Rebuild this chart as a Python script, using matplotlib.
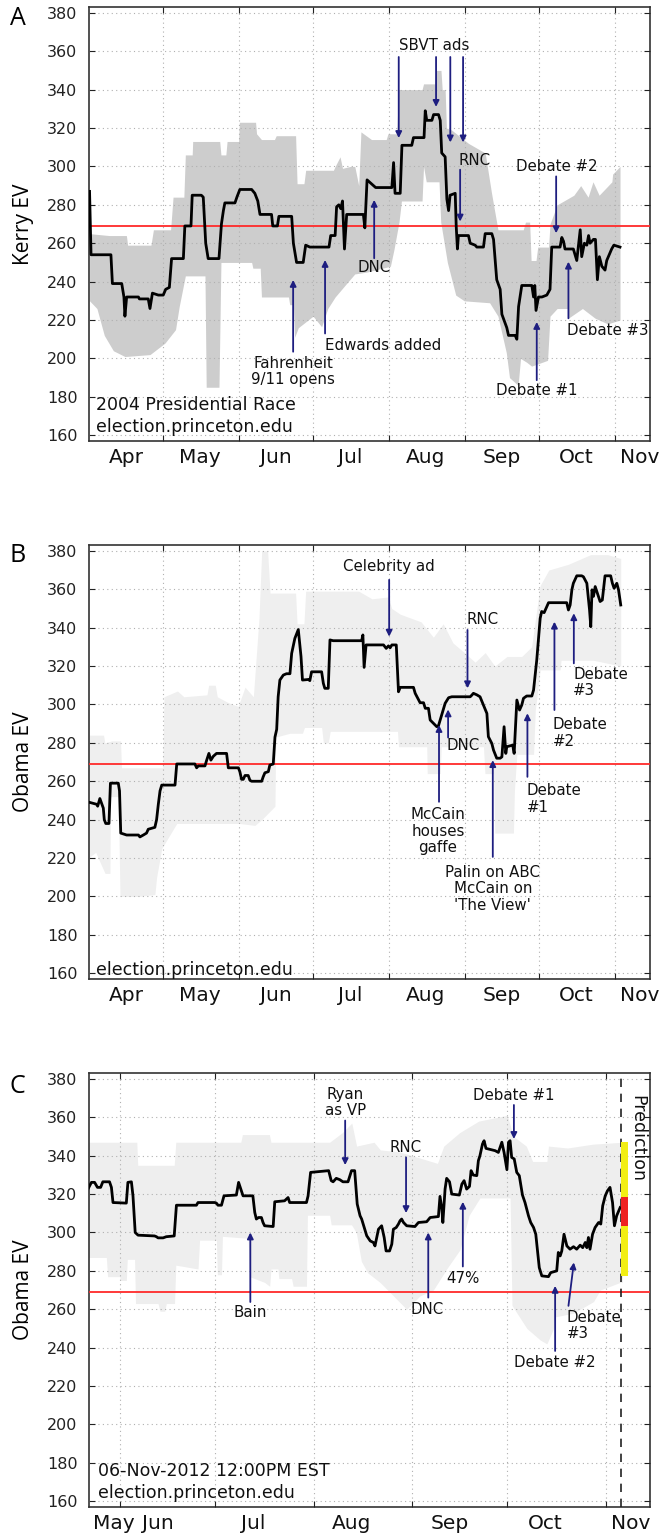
import numpy as np
import matplotlib
matplotlib.use("Agg")
import matplotlib.pyplot as plt
import matplotlib.dates as mdates
from matplotlib.ticker import FixedLocator, FixedFormatter, NullFormatter

# ---------------------------------------------------------------- 2004 (days after 1 Apr 2004)
kerry_day = [0, 0.6, 8.7, 9.3, 13.1, 14.0, 14.4, 15.1, 19.9, 20.3, 23.9, 24.6, 25.6, 28, 30, 31, 32.5,
             33.4, 38.2, 38.8, 41.3, 41.8, 45.5, 46.3, 47.3, 48.3, 52.7, 53.7, 54.5, 55.1, 59.2, 60,
             61.2, 66, 67.3, 68.5, 69.4, 74.1, 74.6, 76.5, 77.1, 82.3, 83, 84.3, 87, 88, 89.7, 97.5,
             98.2, 100, 100.6, 101.5, 102.3, 103, 103.8, 104.7, 111.5, 112.1, 113, 115.6, 116.5, 123.1,
             123.8, 124.4, 126.5, 127.2, 131.2, 131.9, 136.2, 136.7, 137.3, 139.4, 140.1, 142.1, 142.8,
             143.4, 144.8, 145.5, 146.2, 146.8, 148.9, 149.3, 149.8, 150.2, 154.3, 155, 157, 157.7,
             160.4, 161.1, 163.8, 164.5, 165.2, 165.8, 167.2, 167.9, 169.9, 170.6, 173.3, 174, 174.7,
             175.3, 176, 180.1, 180.8, 181.3, 181.8, 182.8, 184.2, 186.2, 187.5, 188.2, 191.6, 192.3,
             193, 193.6, 197, 198.4, 199.1, 199.8, 200.4, 201.5, 202.5, 203.2, 203.8, 205.2, 206,
             206.8, 207.6, 208.6, 209.9, 210.6, 212.6, 213.5, 216]
kerry_ev = [287, 254, 254, 239, 239, 232, 222, 232, 232, 231, 231, 226, 234, 233, 233, 236, 237,
            252, 252, 269, 269, 285, 285, 284, 260, 252, 252, 270, 277, 281, 281, 284,
            288, 288, 286, 282, 275, 275, 269, 269, 274, 274, 260, 250, 250, 259, 258, 258,
            264, 264, 279, 280, 278, 282, 257, 275, 275, 268, 293, 290, 289, 289,
            302, 286, 286, 311, 311, 315, 315, 329, 324, 324, 327, 327, 324,
            307, 305, 283, 277, 285, 286, 269, 257, 264, 264, 260, 259, 258,
            258, 265, 265, 262, 251, 241, 236, 223, 216, 212, 212, 210, 227,
            232, 238, 238, 232, 238, 225, 232, 232, 233, 236, 258, 258, 263,
            261, 257, 257, 251, 259, 267, 253, 260, 259, 264, 260, 262, 262,
            241, 253, 248, 246, 251, 257, 259, 258]

kerry_hi_day = [0, 8, 15, 15.5, 25, 26, 33, 34, 38.4, 39, 41.8, 42, 53, 53.5, 55.5, 56, 60.7, 61, 67.6,
                68, 70, 75.3, 76, 83.9, 84.5, 87.3, 88, 99.3, 100, 102, 103, 106.2, 108, 109.6, 110.5,
                114.8, 120.8, 121.5, 125.1, 125.8, 135.4, 136, 140.5, 141, 143.1, 143.6, 144.8, 145.3,
                147.4, 154.3, 161.1, 163.7, 166.3, 176.6, 177.5, 179.2, 179.8, 181.8, 182.5, 186.9,
                187.5, 190.4, 197.2, 200, 203, 205, 207.5, 212.7, 213, 216]
kerry_hi = [265, 264, 264, 259, 259, 267, 267, 284, 284, 306, 306, 313, 313, 306, 306, 313, 313, 323, 323,
            317, 314, 314, 316, 316, 291, 291, 298, 298, 300, 305, 299, 300, 300, 290, 318,
            314, 314, 317, 317, 340, 340, 343, 343, 350, 350, 340, 340, 320,
            319, 312, 307, 286, 267, 267, 271, 271, 251, 251, 258, 258,
            270, 280, 285, 290, 284, 292, 285, 292, 296, 300]
kerry_lo_day = [0, 3, 6, 9.7, 14.4, 24.6, 30.7, 35, 36.5, 39, 47, 47.5, 52.7, 53.5, 66, 66.5, 69.5, 70,
                81, 81.5, 83, 83.5, 85, 88, 91, 94.5, 97, 100, 105.3, 108, 113, 122.5, 124, 126, 127,
                135.4, 136, 137.1, 142.3, 143, 145.7, 149.1, 152.6, 162.9, 166.3, 169.7, 171, 174.5,
                175.5, 178, 180, 186.5, 187.5, 190.4, 194.6, 195, 200.7, 205.8, 211, 216]
kerry_lo = [230, 226, 212, 204, 201, 202, 208, 215, 227, 243, 243, 185, 185, 250, 250, 247, 247, 232,
            232, 228, 228, 211, 216, 219, 222, 216.5, 226, 232, 240, 244, 245, 248, 257, 271, 282,
            282, 300, 292, 292, 271, 250, 233, 230, 229, 222, 203, 190, 186,
            200, 198, 196, 199, 222, 226, 226, 221, 226, 221, 218, 220]

# ---------------------------------------------------------------- 2008 (days after 1 Apr 2008)
obama08_day = [0, 2.9, 3.3, 4.2, 5.6, 6, 6.6, 7.9, 8.5, 11.7, 12.2, 12.7, 15.1, 19.9, 20.5, 21.9, 23.2,
               23.9, 26.6, 27.3, 28, 28.7, 29.4, 34.8, 35.5, 42.9, 43.6, 44.3, 47, 47.7, 48.6, 49.4,
               50.4, 51.7, 55.8, 56.5, 60.6, 61.2, 61.9, 62.6, 63.3, 64.6, 65.3, 66, 70.1, 70.7, 71.4,
               72.8, 73.4, 74.8, 75.5, 76.2, 76.8, 77.5, 78.9, 80.2, 81.6, 82.3, 83.6, 85, 86.1, 86.7,
               89.1, 89.7, 90.4, 94.5, 95.2, 95.8, 97.2, 97.9, 99.2, 110.8, 111.3, 111.8, 112.6,
               119.7, 120.8, 121.7, 122.4, 123.1, 124.9, 125.4, 125.8, 126.5, 131.9, 132.6, 134,
               134.6, 136, 136.7, 138, 138.7, 140.1, 141.4, 142.1, 143.4, 144.8, 146.2, 147.5, 155,
               155.7, 156.3, 157.7, 159, 160.4, 161.8, 162.4, 163.8, 164.5, 165.8, 167.2, 167.9,
               168.8, 169.5, 169.9, 172.3, 172.9, 173.3, 174, 175.1, 176, 176.7, 178, 180.1, 180.8,
               182.1, 183.5, 184.1, 185.1, 186.2, 186.9, 194.3, 195, 195.7, 196.4, 197, 198.4, 200.4,
               201.1, 202.5, 203.6, 204.1, 204.6, 205.2, 205.9, 206.8, 207.9, 208.8, 209.9, 212.2,
               212.9, 213.6, 214.7, 215.4, 216.3]
obama08_ev = [249, 248, 247, 251, 246, 240, 238, 238, 259, 259, 255, 233, 232, 232, 231, 232, 233,
              235, 236, 240, 248, 255, 258, 258, 269, 269, 267, 268, 268, 271, 274.5, 271,
              273, 274.5, 274.5, 267, 267, 265, 261, 261, 263, 263, 260.5, 260, 260, 262.3, 264.4,
              265, 268.4, 269, 283, 287, 304, 312.7, 315.3, 316, 316, 326.6, 334.4, 339, 325, 312.7,
              313, 312.4, 317, 317, 311, 308.4, 308.4, 333.6, 333.2, 333.2, 336.2, 319.3, 331,
              331, 329.2, 330.5, 329.5, 331, 331, 318, 306.6, 308.9, 308.9, 305.8, 302.3,
              300.9, 300.9, 298, 298, 291.9, 290.1, 288.4, 289, 294.5, 300.6, 303.5, 304, 304,
              304.9, 305.8, 305, 304, 299.7, 295.3, 283.2, 279.7, 276.2, 272, 272, 272.7,
              288.4, 274.5, 278, 278.8, 274.5, 284.9, 302.3, 297.1, 299.7, 303.2, 304.4, 304.4, 307.5,
              323.1, 344.9, 348.4, 347.8, 351, 353, 353, 349.2, 351.8, 359.7, 363.1, 367, 367,
              366.5, 363.1, 349.2, 340.5, 359.7, 356.3, 361.4, 357.9, 353.6, 354.4, 367, 367,
              363.1, 360.5, 363.1, 359.7, 351.8]

obama08_hi_day = [0, 5.7, 6.2, 9, 12.6, 13, 29.8, 30.3, 35.8, 38.4, 47.8, 48.5, 51.2, 52, 56.4, 60.5,
                  63.3, 66.7, 69, 70.1, 72.5, 73.5, 83.9, 84.5, 87.3, 88, 109.6, 115, 121.7, 123,
                  126.5, 135, 140, 144, 148, 152.6, 157, 161.1, 165, 170, 176, 180, 183.5, 187, 195,
                  204, 211, 216.3]
obama08_hi = [284, 284, 280, 281, 281, 267, 267, 304, 307, 304, 305, 310, 310, 304, 301, 299,
              309, 304, 345, 380, 380, 358, 358, 342, 342, 359, 359, 355, 356, 350,
              347, 343, 335, 342, 332, 327, 322, 327, 320, 325, 325, 330, 362, 370, 373,
              378, 378, 376]
obama08_lo_day = [0, 2.5, 6.3, 8.3, 8.5, 11.7, 12.4, 19.5, 26.6, 27.3, 29.4, 35.5, 61.2, 67.3, 70.1,
                  75.5, 75.8, 81.6, 86.7, 87.5, 94.5, 95.2, 97.2, 98, 110, 125.4, 125.8, 137.3, 137.5,
                  142.8, 143.2, 155, 160.4, 161, 164.5, 165, 172.6, 173, 174, 180.8, 181.5, 183.5,
                  191.6, 192, 205.2, 216.3]
obama08_lo = [220.5, 223, 212, 212, 252, 252, 200, 200, 201, 210, 225, 238, 238, 237, 240,
              247, 283, 285, 285, 288, 288, 280, 280, 286, 286, 286, 278, 278, 264,
              264, 278, 278, 278, 264, 264, 233, 233, 255, 274, 274, 297, 318,
              318, 323, 323, 320]

# ---------------------------------------------------------------- 2012 (days after 1 Jun 2012)
obama12_day = [-10.2, -9.1, -8.1, -7.2, -6.2, -5.5, -3.4, -2.8, -2.3, 1.9, 2.4, 3.5, 4, 4.7, 5.6, 10.8,
               11.4, 11.9, 13.5, 14.5, 17, 17.7, 24, 24.5, 29.8, 30.3, 30.8, 31.9, 32.7, 36.6, 37.3,
               38, 38.7, 41.8, 42.4, 42.9, 43.6, 44.5, 45, 45.5, 48.2, 48.7, 51.8, 52.9, 53.4, 58.7,
               59.2, 60, 65.7, 66.5, 67.1, 68.1, 69.2, 70.2, 71.8, 72.3, 72.9, 73.9, 74.7, 75.6, 76.1,
               77.7, 78.8, 79.8, 80.3, 81.4, 82.4, 83.2, 83.8, 84.9, 85.6, 86.1, 87, 87.7, 88.2, 88.7,
               89.3, 90.3, 92.9, 94, 96.6, 97.7, 100.3, 100.8, 101.4, 101.7, 102.4, 102.9, 103.8,
               104.5, 106.9, 107.7, 108.4, 109.2, 110.1, 110.6, 111.3, 112.4, 112.9, 113.4, 114.2,
               114.7, 115.3, 118.2, 119.2, 120.3, 121, 121.9, 122.4, 122.9, 123.4, 124.2, 125,
               125.8, 126.8, 127.6, 128.7, 129.4, 130.3, 131, 131.5, 132.1, 132.9, 135, 135.7,
               137.6, 138.1, 138.7, 139.2, 139.9, 140.8, 141.8, 142.9, 143.9, 145, 145.8, 146.6,
               147.1, 147.6, 148.1, 148.9, 149.7, 150.8, 151.5, 152.1, 152.9, 153.6, 154.4, 155.2,
               155.8, 156.5, 157.6]
obama12_ev = [322.6, 326.1, 326.1, 323.5, 323.5, 326.4, 326.4, 323.5, 315.6, 315.3, 326.1, 326.4, 319.1,
              300, 298.6, 298.2, 297.8, 297.2, 297.2, 297.8, 298.2, 314.2, 314.2, 315.6, 315.6, 315.3,
              314.2, 314.2, 319.1, 319.5, 326.1, 322.6, 319.1, 319.1, 310.4, 307, 307.8, 307.8, 305.2,
              303.5, 303.1, 316, 316.5, 318.2, 315.6, 315.6, 319, 331.3, 332.2, 327, 326.4, 328.2,
              327.5, 326.4, 326.4, 329, 332.2, 332.2, 314.8, 308.7, 307, 298.3, 295.6, 294.8, 293,
              301.7, 303.5, 297.4, 290.4, 290.4, 293.9, 301.7, 302.6, 304.4, 306.1, 307, 305.2,
              303.5, 303.1, 305.2, 305.6, 307.8, 308.3, 318.8, 312.2, 305.2, 322.6, 328.2, 326.4,
              320, 319.5, 325.2, 327, 322.6, 324, 332.2, 329.9, 329.6, 337.4, 340, 346.1, 347.8,
              343.8, 342.6, 341.7, 347, 341.7, 332.7, 347, 347.8, 339.1, 338.3, 331.3, 329.6,
              319.5, 315.6, 308.7, 305.2, 302.6, 299.1, 291.3, 281.7, 277.4, 277, 279.1, 280,
              289.6, 287.8, 290.4, 299.1, 293, 291.3, 292.6, 291.3, 293.4, 292.1, 294.8, 292.1,
              297.4, 291.3, 299.1, 302.6, 305.2, 304.4, 313.9, 319.1, 321.7, 323.5, 315.6, 303.5,
              308.7, 313]

obama12_hi_day = [-10, 5.2, 5.5, 17, 17.5, 38, 38.5, 47, 47.5, 66, 70, 73, 74.5, 80, 82, 88, 96, 100,
                  102, 107, 113, 122, 124, 128, 130, 134.5, 135, 141, 149, 158.3]
obama12_hi = [347, 347, 335, 335, 347, 347, 351, 351, 347, 347, 352, 357, 345, 347, 343, 342, 338, 336,
              345, 352, 358, 361, 350, 345, 337, 337, 345, 344, 346, 347]
obama12_lo_day = [-10.2, -4.4, -4, -0.2, 0, 1.9, 2.2, 4.5, 4.8, 11.9, 12.5, 14, 14.5, 17.1, 17.5, 24.5,
                  25, 30.3, 30.6, 31.9, 32.2, 40.3, 40.8, 45.5, 47.1, 47.5, 49.7, 50, 54, 54.5, 58.7,
                  59, 66, 66.5, 72.9, 74.4, 76, 78, 81.9, 86.1, 90.3, 94.5, 98.7, 102.9, 107.1, 110,
                  113.4, 122.9, 123.5, 128.2, 132.4, 134.5, 136.6, 137, 142.9, 149.2, 151.3, 157.6,
                  158.3]
obama12_lo = [287, 287, 277, 277, 275, 275, 286, 286, 263, 263, 259, 259, 263, 263, 283, 281,
              296, 296, 278, 278, 298, 297, 277, 274, 272, 281, 281, 276, 276, 272, 272,
              309, 309, 304, 304, 300, 285, 279, 274, 267, 260, 267, 270, 281, 291, 309,
              318, 318, 262, 250, 244, 242, 250, 256, 258, 264, 270, 274, 274]

# Prediction bar for election day 2012 (EV range and central range)
pred_range = [277.4, 347]
pred_core = [303.5, 318.3]

# ---------------------------------------------------------------- month tick labels
month_names_a = ["Apr", "May", "Jun", "Jul", "Aug", "Sep", "Oct", "Nov"]
month_label_days_04 = ["2004-04-16", "2004-05-16", "2004-06-16", "2004-07-16", "2004-08-16",
                       "2004-09-16", "2004-10-16", "2004-11-11"]
month_label_days_08 = ["2008-04-16", "2008-05-16", "2008-06-16", "2008-07-16", "2008-08-16",
                       "2008-09-16", "2008-10-16", "2008-11-11"]
month_names_c = ["May", "Jun", "Jul", "Aug", "Sep", "Oct", "Nov"]
month_label_days_12 = ["2012-05-30", "2012-06-13", "2012-07-13", "2012-08-13", "2012-09-13",
                       "2012-10-13", "2012-11-09"]
y_ticks = list(range(160, 381, 20))

NAVY = "#1e1e80"
RED = "#ff2a2a"


def dnum(s):
    return mdates.date2num(np.datetime64(s))


def to_x(start, days):
    return dnum(start) + np.asarray(days, dtype=float)


def band(ax, start, hi_day, hi, lo_day, lo, color):
    # put both edges on one common set of days so the band is a single polygon
    days = np.union1d(hi_day, lo_day)
    upper = np.interp(days, hi_day, hi)
    lower = np.interp(days, lo_day, lo)
    ax.fill_between(to_x(start, days), lower, np.maximum(upper, lower), color=color, lw=0,
                    zorder=1)


def style_axes(ax, start, x0, x1, month_starts, label_days, names):
    ax.set_xlim(dnum(start) + x0, dnum(start) + x1)
    ax.set_ylim(157, 383)
    ax.set_yticks(y_ticks)
    ax.xaxis.set_major_locator(FixedLocator([dnum(m) for m in month_starts]))
    ax.xaxis.set_major_formatter(NullFormatter())
    ax.xaxis.set_minor_locator(FixedLocator([dnum(m) for m in label_days]))
    ax.xaxis.set_minor_formatter(FixedFormatter(names))
    ax.tick_params(axis="both", which="major", direction="in", length=4, width=0.8,
                   top=True, right=True, labelsize=11.5, colors="#222222")
    ax.tick_params(axis="y", which="major", pad=8)
    ax.tick_params(axis="x", which="minor", length=0, labelsize=14.5, pad=5,
                   labelcolor="#111111")
    ax.grid(True, which="major", ls=(0, (1, 3)), color="#b0b0b0", lw=0.8)
    for s in ax.spines.values():
        s.set_color("#333333")
        s.set_linewidth(1.2)
    ax.set_axisbelow(False)


def arrow(ax, x, y0, y1, x1=None):
    ax.annotate("", xy=(x if x1 is None else x1, y1), xytext=(x, y0),
                arrowprops=dict(arrowstyle="-|>", color=NAVY, lw=1.3, mutation_scale=9,
                                shrinkA=0, shrinkB=0), zorder=6)


def note(ax, x, y, s, ha="center"):
    ax.text(x, y, s, ha=ha, va="center", fontsize=10.8, color="#111111",
            linespacing=1.12, zorder=7, multialignment=ha if ha != "center" else "center")


fig = plt.figure(figsize=(6.61, 15.35), dpi=100)
L, W, H = 0.134, 0.8493, 0.2827
ax_a = fig.add_axes([L, 0.7127, W, H])
ax_b = fig.add_axes([L, 0.3622, W, H])
ax_c = fig.add_axes([L, 0.0182, W, H])

# ------------------------------------------------------------ Panel A: Kerry 2004
s04 = "2004-04-01"
ax = ax_a
band(ax, s04, kerry_hi_day, kerry_hi, kerry_lo_day, kerry_lo, "#cdcdcd")
ax.axhline(269, color=RED, lw=1.3, zorder=3)
ax.plot(to_x(s04, kerry_day), kerry_ev, color="black", lw=2.0, zorder=4)
style_axes(ax, s04, -0.4, 228.2,
           ["2004-05-01", "2004-06-01", "2004-07-01", "2004-08-01", "2004-09-01", "2004-10-01",
            "2004-11-01"], month_label_days_04, month_names_a)
ax.set_ylabel("Kerry EV", fontsize=15, family="Open Sans", labelpad=9)
xa = lambda d: dnum(s04) + d
arrow(ax, xa(82.9), 203.5, 240.9)
note(ax, xa(82.9), 193.1, "Fahrenheit\n9/11 opens")
arrow(ax, xa(95.9), 213, 251.3)
note(ax, xa(95.9), 207, "Edwards added", ha="left")
arrow(ax, xa(115.9), 252.2, 282.6)
note(ax, xa(115.9), 247.3, "DNC")
for d, tip in [(125.9, 314.8), (141.1, 331), (146.9, 312.5), (152.1, 312.5)]:
    arrow(ax, xa(d), 357, tip)
note(ax, xa(140.2), 363, "SBVT ads")
arrow(ax, xa(150.9), 298.3, 271.3)
note(ax, xa(156.9), 303.1, "RNC")
arrow(ax, xa(190), 294.8, 265.2)
note(ax, xa(190.4), 300, "Debate #2")
arrow(ax, xa(195), 220.9, 250.4)
note(ax, xa(211), 214.8, "Debate #3")
arrow(ax, xa(182.1), 188.7, 219)
note(ax, xa(182.1), 183.1, "Debate #1")
ax.text(xa(2.7), 175.7, "2004 Presidential Race", fontsize=12.5, va="center", color="#111111")
ax.text(xa(2.7), 164.3, "election.princeton.edu", fontsize=12.5, va="center", color="#111111")

# ------------------------------------------------------------ Panel B: Obama 2008
s08 = "2008-04-01"
ax = ax_b
band(ax, s08, obama08_hi_day, obama08_hi, obama08_lo_day, obama08_lo, "#efefef")
ax.axhline(269, color=RED, lw=1.3, zorder=3)
ax.plot(to_x(s08, obama08_day), obama08_ev, color="black", lw=2.0, zorder=4)
style_axes(ax, s08, -0.4, 228.2,
           ["2008-05-01", "2008-06-01", "2008-07-01", "2008-08-01", "2008-09-01", "2008-10-01",
            "2008-11-01"], month_label_days_08, month_names_a)
ax.set_ylabel("Obama EV", fontsize=15, family="Open Sans", labelpad=9)
xb = lambda d: dnum(s08) + d
arrow(ax, xb(122), 364.9, 335.3)
note(ax, xb(122), 371.8, "Celebrity ad")
arrow(ax, xb(153.9), 338.8, 308.4)
note(ax, xb(160), 344, "RNC")
arrow(ax, xb(146), 282.8, 297.4)
note(ax, xb(152.2), 278.8, "DNC")
arrow(ax, xb(142.3), 249.3, 289.3)
note(ax, xb(141.9), 234, "McCain\nhouses\ngaffe")
arrow(ax, xb(164.2), 220.6, 271)
note(ax, xb(164.2), 204, "Palin on ABC\nMcCain on\n'The View'")
arrow(ax, xb(178.3), 262.3, 295.4)
note(ax, xb(178), 250.8, "Debate\n#1", ha="left")
arrow(ax, xb(189.3), 297.1, 343.1)
note(ax, xb(188.6), 285.2, "Debate\n#2", ha="left")
arrow(ax, xb(197.2), 321.4, 347.5)
note(ax, xb(196.9), 311.3, "Debate\n#3", ha="left")
ax.text(xb(2.7), 161.8, "election.princeton.edu", fontsize=12.5, va="center", color="#111111")

# ------------------------------------------------------------ Panel C: Obama 2012
s12 = "2012-06-01"
ax = ax_c
band(ax, s12, obama12_hi_day, obama12_hi, obama12_lo_day, obama12_lo, "#eeeeee")
ax.axhline(269, color=RED, lw=1.3, zorder=3)
ax.plot(to_x(s12, obama12_day), obama12_ev, color="black", lw=2.0, zorder=4)
style_axes(ax, s12, -10, 167,
           ["2012-06-01", "2012-07-01", "2012-08-01", "2012-09-01", "2012-10-01", "2012-11-01"],
           month_label_days_12, month_names_c)
ax.set_ylabel("Obama EV", fontsize=15, family="Open Sans", labelpad=9)
xc = lambda d: dnum(s12) + d
election = dnum("2012-11-06")
ax.axvline(election, color="#222222", lw=1.2, ls=(0, (5, 4)), zorder=5)
ax.bar(election, pred_range[1] - pred_range[0], bottom=pred_range[0], width=2.1, align="edge",
       color="#f2ee14", lw=0, zorder=5)
ax.bar(election, pred_core[1] - pred_core[0], bottom=pred_core[0], width=2.1, align="edge",
       color="#ee2222", lw=0, zorder=5.1)
ax.text(xc(162.9), 348.7, "Prediction", rotation=270, ha="center", va="center", fontsize=12.5,
        color="#111111")
arrow(ax, xc(70.9), 358.3, 335.1)
note(ax, xc(70.9), 367.8, "Ryan\nas VP")
arrow(ax, xc(90.1), 339.1, 310.1)
note(ax, xc(89.8), 344.4, "RNC")
arrow(ax, xc(124.1), 366.4, 348.7)
note(ax, xc(124.1), 371.3, "Debate #1")
arrow(ax, xc(41), 263.8, 300)
note(ax, xc(41), 258.3, "Bain")
arrow(ax, xc(97.1), 266.1, 300)
note(ax, xc(96.8), 260, "DNC")
arrow(ax, xc(108), 282.3, 316)
note(ax, xc(108), 276, "47%")
arrow(ax, xc(137.1), 238.3, 272.2)
note(ax, xc(137.1), 232.2, "Debate #2")
arrow(ax, xc(141.3), 261.8, 284.4, x1=xc(143))
note(ax, xc(140.8), 251.7, "Debate\n#3", ha="left")
ax.text(xc(-7), 175.7, "06-Nov-2012 12:00PM EST", fontsize=12.5, va="center", color="#111111")
ax.text(xc(-7), 164.4, "election.princeton.edu", fontsize=12.5, va="center", color="#111111")

# ------------------------------------------------------------ panel letters
for y, letter in [(0.988, "A"), (0.638, "B"), (0.292, "C")]:
    fig.text(0.015, y, letter, fontsize=18, family="Open Sans", va="center", ha="left")

fig.savefig("out.png", dpi=100, facecolor="white")
